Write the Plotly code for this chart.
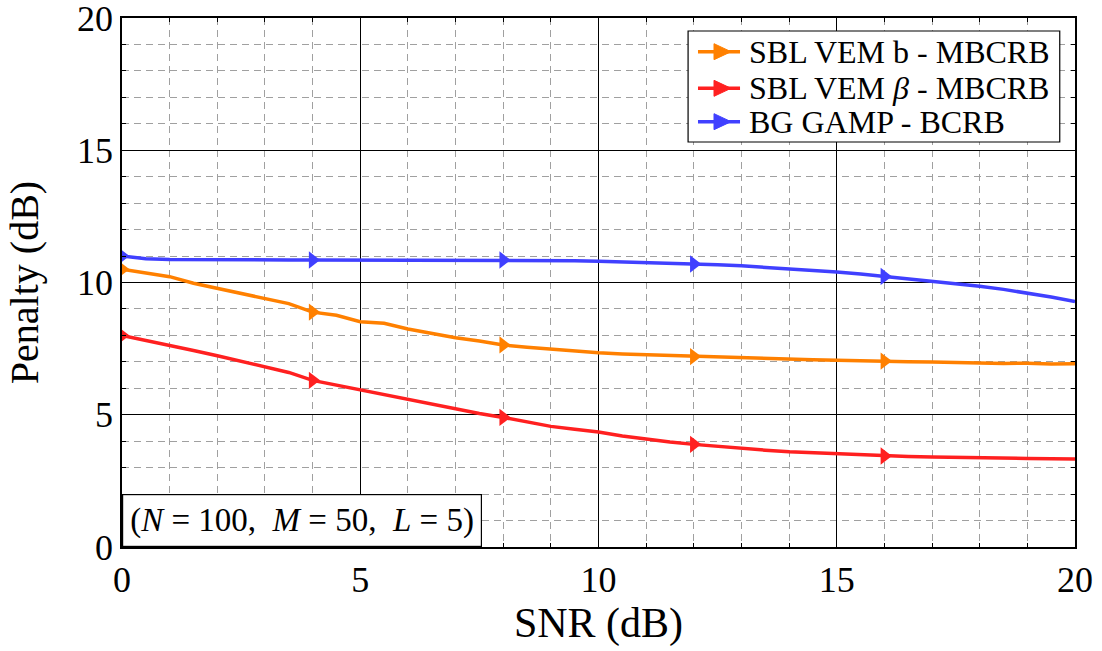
import plotly.graph_objects as go

snr = [i * 0.5 for i in range(41)]

sbl_b = [10.5, 10.35, 10.22, 9.97, 9.77, 9.59, 9.37, 9.2, 8.88, 8.76,
         8.52, 8.46, 8.24, 8.08, 7.91, 7.79, 7.64, 7.55, 7.48, 7.40,
         7.34, 7.30, 7.27, 7.24, 7.20, 7.17, 7.14, 7.12, 7.10, 7.08,
         7.06, 7.03, 7.03, 7.00, 6.99, 6.96, 6.96, 6.94, 6.95, 6.92, 6.93]

sbl_beta = [8.0, 7.82, 7.63, 7.43, 7.23, 7.03, 6.82, 6.6, 6.3, 6.12,
            5.94, 5.75, 5.56, 5.38, 5.2, 5.05, 4.9, 4.72, 4.56, 4.45,
            4.35, 4.2, 4.07, 3.97, 3.88, 3.8, 3.72, 3.66, 3.6, 3.56,
            3.52, 3.48, 3.44, 3.42, 3.4, 3.38, 3.37, 3.36, 3.35, 3.34, 3.33]

bg_gamp = [11.0, 10.9, 10.87, 10.86, 10.85, 10.85, 10.85, 10.85, 10.85, 10.85,
           10.85, 10.85, 10.85, 10.85, 10.85, 10.85, 10.85, 10.84, 10.83, 10.82,
           10.80, 10.78, 10.76, 10.73, 10.70, 10.67, 10.63, 10.58, 10.53, 10.46,
           10.40, 10.32, 10.23, 10.14, 10.05, 9.95, 9.86, 9.74, 9.6, 9.45, 9.28]

names = ["SBL VEM b - MBCRB", "SBL VEM <i>β</i> - MBCRB", "BG GAMP - BCRB"]
colors = ["#ff8000", "#ff2020", "#4040ff"]
series = [sbl_b, sbl_beta, bg_gamp]
mark_idx = [0, 8, 16, 24, 32]

font_family = "Liberation Serif"

fig = go.Figure()
for name, col, ys in zip(names, colors, series):
    fig.add_trace(go.Scatter(x=snr, y=ys, mode="lines", line=dict(color=col, width=3.5),
                             name=name, showlegend=False, hoverinfo="skip"))
    fig.add_trace(go.Scatter(x=[snr[i] for i in mark_idx], y=[ys[i] for i in mark_idx],
                             mode="markers", marker=dict(symbol="triangle-right", size=15, color=col),
                             name=name, showlegend=False))

# manual legend (box, sample lines, arrow markers, labels) in paper coordinates
leg_x0, leg_x1, leg_y0, leg_y1 = 0.594, 0.984, 0.7656, 0.9754
row_y = [0.9363, 0.8671, 0.804]
fig.add_shape(type="rect", xref="paper", yref="paper", x0=leg_x0, x1=leg_x1, y0=leg_y0, y1=leg_y1,
              line=dict(color="black", width=1.2), fillcolor="white", layer="above")
for name, col, ry in zip(names, colors, row_y):
    fig.add_shape(type="line", xref="paper", yref="paper", x0=0.6044, x1=0.6485, y0=ry, y1=ry,
                  line=dict(color=col, width=3.5), layer="above")
    fig.add_shape(type="path", xref="paper", yref="paper", xsizemode="pixel", ysizemode="pixel",
                  xanchor=0.6296, yanchor=ry, path="M -8,-8 L 9,0 L -8,8 Z",
                  fillcolor=col, line=dict(color=col, width=1), layer="above")
    fig.add_annotation(xref="paper", yref="paper", x=0.6558, y=ry, xanchor="left", yanchor="middle",
                       text=name, showarrow=False,
                       font=dict(family=font_family, size=32, color="black"))

axis_common = dict(
    showline=True, linecolor="black", linewidth=1.5, mirror="allticks",
    ticks="inside", ticklen=7, tickcolor="black", tickwidth=1,
    showgrid=True, gridcolor="black", gridwidth=0.8,
    zeroline=False, automargin=False, ticklabeloverflow="allow",
    tickfont=dict(family=font_family, size=36, color="black"),
    minor=dict(dtick=1, ticks="inside", ticklen=4, tickcolor="black",
               showgrid=True, gridcolor="#a0a0a0", griddash="7px,5px", gridwidth=1),
)

fig.update_xaxes(range=[0, 20], dtick=5, tick0=0,
                 title=dict(text="SNR (dB)", font=dict(family=font_family, size=42, color="black"), standoff=6),
                 **axis_common)
fig.update_yaxes(range=[0, 20], dtick=5, tick0=0,
                 title=dict(text="Penalty (dB)", font=dict(family=font_family, size=40, color="black"), standoff=26),
                 **axis_common)

fig.add_annotation(xref="paper", yref="paper", x=0, y=0, xanchor="left", yanchor="bottom",
                   text="(<i>N</i> = 100,  <i>M</i> = 50,  <i>L</i> = 5)", showarrow=False,
                   font=dict(family=font_family, size=33, color="black"),
                   bgcolor="white", bordercolor="black", borderwidth=1.2, borderpad=7)

fig.update_layout(
    width=1102, height=651,
    margin=dict(l=122, r=27, t=18, b=104, autoexpand=False),
    plot_bgcolor="white", paper_bgcolor="white",
    showlegend=False,
)

fig.write_html("out.html", config={"displayModeBar": False},
               post_script="document.body.style.margin='0px';")
